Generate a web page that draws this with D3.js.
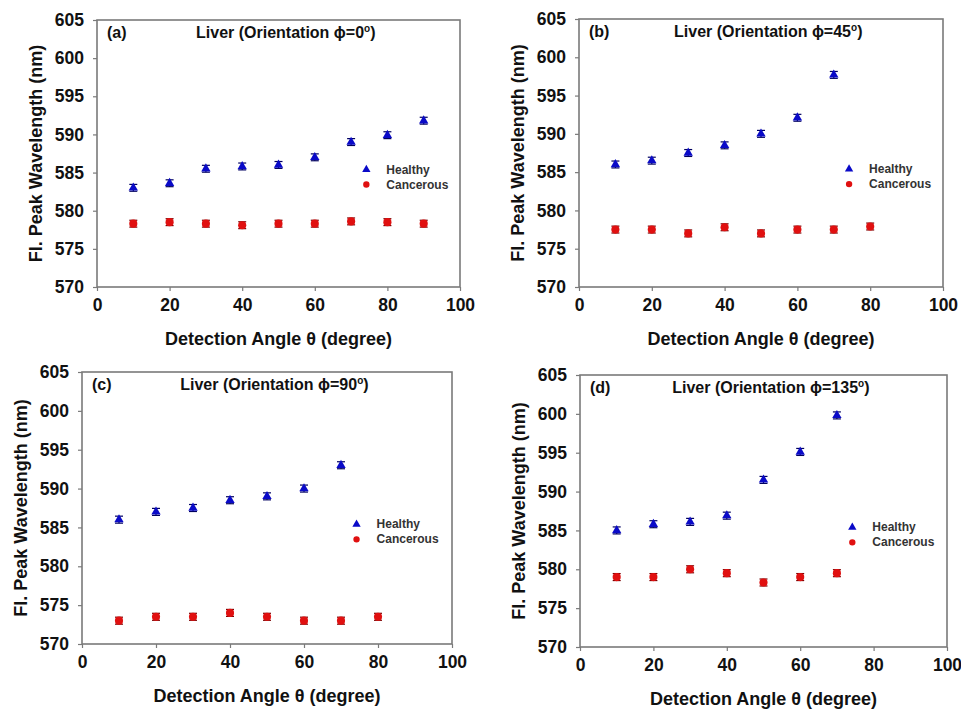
<!DOCTYPE html>
<html>
<head>
<meta charset="utf-8">
<script src="https://cdn.jsdelivr.net/npm/d3@7"></script>
<style>
  html, body { margin: 0; padding: 0; background: #fff; }
  svg { display: block; }
  text { font-family: Arial, "Liberation Sans", sans-serif; font-weight: bold; }
</style>
</head>
<body>
<svg id="chart" width="961" height="709"></svg>
<script>
// Fluorescence peak wavelength of liver tissue versus detection angle,
// for four sample orientations (phi), healthy vs cancerous.

const panelTags = ["(a)", "(b)", "(c)", "(d)"];
const orientations = ["0", "45", "90", "135"];
const seriesNames = ["Healthy", "Cancerous"];

const xTicks = [0, 20, 40, 60, 80, 100];
const yTicks = [570, 575, 580, 585, 590, 595, 600, 605];

// phi = 0
const anglesHealthyA = [10, 20, 30, 40, 50, 60, 70, 80, 90];
const healthyA       = [583.0, 583.6, 585.5, 585.8, 586.0, 587.0, 589.0, 589.9, 591.8];
const anglesCancerA  = [10, 20, 30, 40, 50, 60, 70, 80, 90];
const cancerA        = [578.3, 578.5, 578.3, 578.1, 578.3, 578.3, 578.6, 578.5, 578.3];

// phi = 45
const anglesHealthyB = [10, 20, 30, 40, 50, 60, 70];
const healthyB       = [586.0, 586.5, 587.5, 588.5, 590.0, 592.1, 597.7];
const anglesCancerB  = [10, 20, 30, 40, 50, 60, 70, 80];
const cancerB        = [577.5, 577.5, 577.0, 577.8, 577.0, 577.5, 577.5, 577.9];

// phi = 90
const anglesHealthyC = [10, 20, 30, 40, 50, 60, 70];
const healthyC       = [586.0, 587.0, 587.5, 588.5, 589.0, 590.0, 593.0];
const anglesCancerC  = [10, 20, 30, 40, 50, 60, 70, 80];
const cancerC        = [573.0, 573.5, 573.5, 574.0, 573.5, 573.0, 573.0, 573.5];

// phi = 135
const anglesHealthyD = [10, 20, 30, 40, 50, 60, 70];
const healthyD       = [585.0, 585.8, 586.1, 586.9, 591.5, 595.1, 599.8];
const anglesCancerD  = [10, 20, 30, 40, 50, 60, 70];
const cancerD        = [579.0, 579.0, 580.0, 579.5, 578.3, 579.0, 579.5];

// standard deviation shown as error bars (nm)
const errorHalfWidth = 0.45;

const healthyColor = "#0a0ac8";
const cancerColor = "#e01010";

// panel frames in pixels
const frames = [
  { left: 97,  top: 20,  right: 460, bottom: 287 },
  { left: 579, top: 19,  right: 943, bottom: 287 },
  { left: 82,  top: 372, right: 452, bottom: 644 },
  { left: 580, top: 375, right: 947, bottom: 647 }
];

const panelData = [
  { hx: anglesHealthyA, hy: healthyA, cx: anglesCancerA, cy: cancerA },
  { hx: anglesHealthyB, hy: healthyB, cx: anglesCancerB, cy: cancerB },
  { hx: anglesHealthyC, hy: healthyC, cx: anglesCancerC, cy: cancerC },
  { hx: anglesHealthyD, hy: healthyD, cx: anglesCancerD, cy: cancerD }
];

const svg = d3.select("#chart");
const frameColor = "#7a7a7a";

panelData.forEach((pd, i) => {
  const f = frames[i];
  const w = f.right - f.left, h = f.bottom - f.top;
  const g = svg.append("g").attr("transform", `translate(${f.left},${f.top})`);

  const x = d3.scaleLinear().domain([0, 100]).range([0, w]);
  const y = d3.scaleLinear().domain([570, 605]).range([h, 0]);

  // axes
  const xAxis = g.append("g").attr("transform", `translate(0,${h})`)
    .call(d3.axisBottom(x).tickValues(xTicks).tickSize(4).tickPadding(8).tickFormat(d3.format("d")));
  const yAxis = g.append("g")
    .call(d3.axisLeft(y).tickValues(yTicks).tickSize(4).tickPadding(9).tickFormat(d3.format("d")));
  [xAxis, yAxis].forEach(a => {
    a.select(".domain").remove();
    a.selectAll(".tick line").attr("stroke", frameColor).attr("stroke-width", 1.2);
    a.selectAll(".tick text").attr("fill", "#111").style("font-size", "17.5px");
  });

  // frame
  g.append("rect").attr("x", 0).attr("y", 0).attr("width", w).attr("height", h)
    .attr("fill", "none").attr("stroke", frameColor).attr("stroke-width", 1.6);

  // axis titles
  g.append("text").attr("x", w / 2).attr("y", h + 58).attr("text-anchor", "middle")
    .attr("fill", "#111").style("font-size", "18px")
    .text("Detection Angle θ (degree)");
  g.append("text").attr("transform", `translate(-55,${h / 2}) rotate(-90)`)
    .attr("text-anchor", "middle").attr("fill", "#111").style("font-size", "18px")
    .text("Fl. Peak Wavelength (nm)");

  // panel tag and title
  g.append("text").attr("x", 10).attr("y", 18).attr("fill", "#111")
    .style("font-size", "16px").text(panelTags[i]);
  const t = g.append("text").attr("x", w * 0.52).attr("y", 18).attr("text-anchor", "middle")
    .attr("fill", "#111").style("font-size", "16px");
  t.append("tspan").text(`Liver (Orientation ϕ=${orientations[i]}`);
  t.append("tspan").attr("dy", -6).style("font-size", "10px").text("o");
  t.append("tspan").attr("dy", 6).text(")");

  // error bars + markers
  const drawSeries = (xs, ys, color, capColor, symbol, size) => {
    const pts = xs.map((a, k) => ({ a, v: ys[k] }));
    const eb = g.append("g").attr("stroke", capColor).attr("stroke-width", 1.2);
    pts.forEach(p => {
      const cx = x(p.a), y0 = y(p.v - errorHalfWidth), y1 = y(p.v + errorHalfWidth);
      eb.append("line").attr("x1", cx).attr("x2", cx).attr("y1", y0).attr("y2", y1);
      eb.append("line").attr("x1", cx - 4).attr("x2", cx + 4).attr("y1", y0).attr("y2", y0);
      eb.append("line").attr("x1", cx - 4).attr("x2", cx + 4).attr("y1", y1).attr("y2", y1);
    });
    g.append("g").selectAll("path").data(pts).join("path")
      .attr("transform", p => `translate(${x(p.a)},${y(p.v)})`)
      .attr("d", d3.symbol().type(symbol).size(size))
      .attr("fill", color);
  };
  drawSeries(pd.cx, pd.cy, cancerColor, "#7a0000", d3.symbolCircle, 52);
  drawSeries(pd.hx, pd.hy, healthyColor, "#000060", d3.symbolTriangle, 38);

  // legend
  const lx = w * 0.742, ly = h * 0.56;
  const legend = g.append("g").attr("transform", `translate(${lx},${ly})`);
  legend.append("path").attr("d", d3.symbol().type(d3.symbolTriangle).size(30)).attr("fill", healthyColor);
  legend.append("path").attr("transform", "translate(0,15)")
    .attr("d", d3.symbol().type(d3.symbolCircle).size(32)).attr("fill", cancerColor);
  seriesNames.forEach((name, k) => {
    legend.append("text").attr("x", 20).attr("y", k * 15 + 4).attr("fill", "#333")
      .style("font-size", "12px").text(name);
  });
});
</script>
</body>
</html>
